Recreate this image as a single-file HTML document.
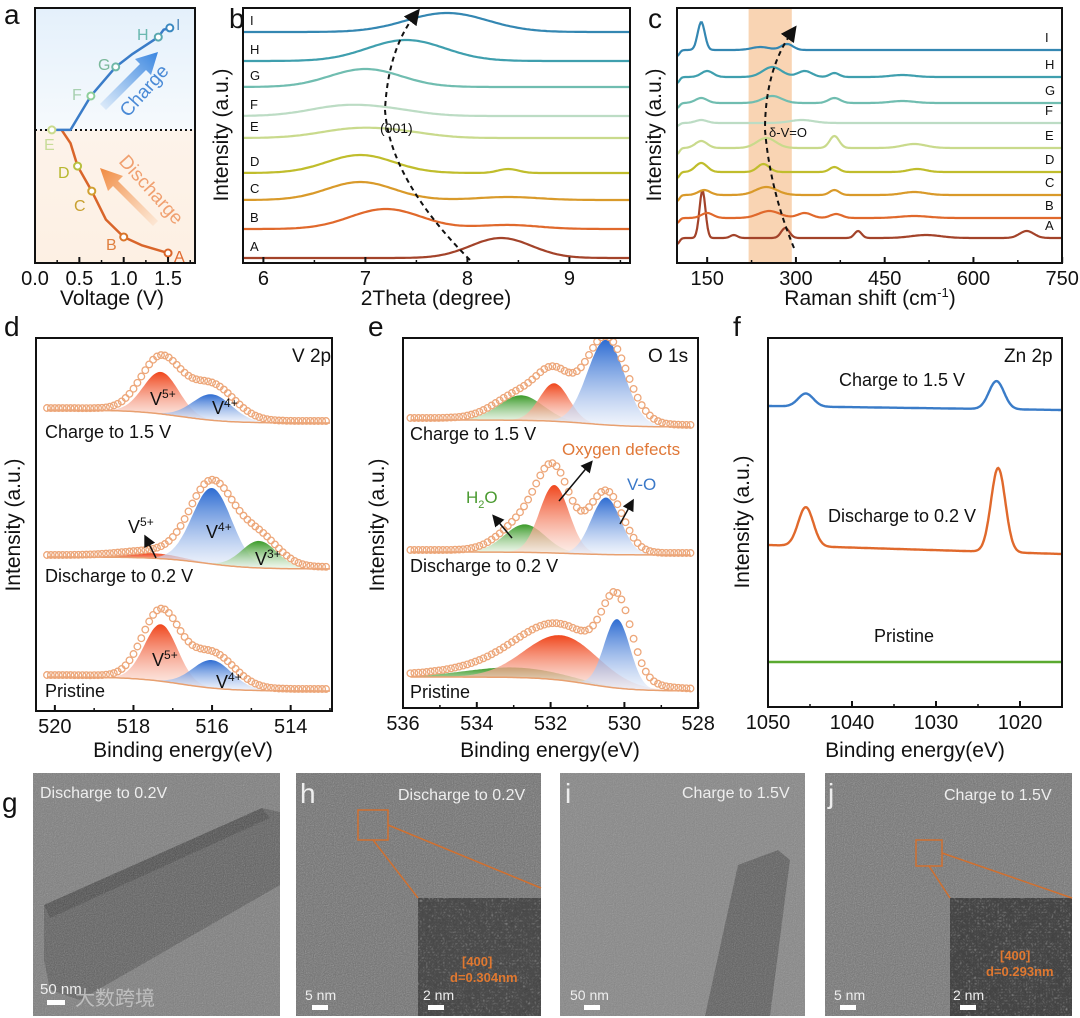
<!DOCTYPE html>
<html><head><meta charset="utf-8">
<style>
html,body{margin:0;padding:0;background:#fff;}
svg{display:block;font-family:"Liberation Sans","Noto Sans CJK SC",sans-serif;}
.tick{font-size:20px;fill:#111;text-anchor:middle;}
.ttl{font-size:21px;fill:#111;text-anchor:middle;}
.plet{font-size:28px;fill:#111;}
.lbl{font-size:18px;fill:#111;}
.img{font-size:16px;fill:#eee;}
</style></head>
<body>
<svg id="fig" width="1080" height="1018" viewBox="0 0 1080 1018" xmlns="http://www.w3.org/2000/svg">
<defs>
  <linearGradient id="gBlueBg" x1="0" y1="0" x2="0" y2="1"><stop offset="0" stop-color="#e4f0fb"/><stop offset="1" stop-color="#f6fafd"/></linearGradient>
  <linearGradient id="gOrBg" x1="0" y1="0" x2="0" y2="1"><stop offset="0" stop-color="#fdf3ea"/><stop offset="1" stop-color="#fdf0e3"/></linearGradient>
  <linearGradient id="gRed" x1="0" y1="0" x2="0" y2="1"><stop offset="0" stop-color="#f0461c"/><stop offset="1" stop-color="#fbe4dc" stop-opacity="0.6"/></linearGradient>
  <linearGradient id="gBlue" x1="0" y1="0" x2="0" y2="1"><stop offset="0" stop-color="#2d6cd2"/><stop offset="1" stop-color="#e8eefa" stop-opacity="0.6"/></linearGradient>
  <linearGradient id="gGreen" x1="0" y1="0" x2="0" y2="1"><stop offset="0" stop-color="#3a9a28"/><stop offset="1" stop-color="#eaf5e6" stop-opacity="0.6"/></linearGradient>
  <linearGradient id="arrBlue" x1="0" y1="1" x2="1" y2="0"><stop offset="0" stop-color="#4a90e2" stop-opacity="0.1"/><stop offset="1" stop-color="#3a86e0"/></linearGradient>
  <linearGradient id="arrOr" x1="1" y1="1" x2="0" y2="0"><stop offset="0" stop-color="#f5a060" stop-opacity="0.1"/><stop offset="1" stop-color="#f08a40"/></linearGradient>
  <filter id="noise" x="0" y="0" width="100%" height="100%">
    <feTurbulence type="fractalNoise" baseFrequency="0.9" numOctaves="2" seed="3"/>
    <feColorMatrix type="saturate" values="0"/>
    <feComponentTransfer><feFuncA type="linear" slope="0.7"/></feComponentTransfer>
  </filter>
  <filter id="noise2" x="0" y="0" width="100%" height="100%">
    <feTurbulence type="turbulence" baseFrequency="0.35" numOctaves="1" seed="7"/>
    <feColorMatrix type="saturate" values="0"/>
    <feComponentTransfer><feFuncA type="linear" slope="1"/></feComponentTransfer>
  </filter>
  <marker id="ah" markerWidth="8" markerHeight="8" refX="4" refY="4" orient="auto"><path d="M0,0 L8,4 L0,8 z" fill="#111"/></marker>
  <clipPath id="clipD"><rect x="36" y="338" width="296" height="373"/></clipPath>
  <clipPath id="clipE"><rect x="403" y="338" width="295" height="370"/></clipPath>
</defs>

<!-- Panel letters -->
<text class="plet" x="4" y="24">a</text>
<text class="plet" x="229" y="28">b</text>
<text class="plet" x="648" y="28">c</text>
<text class="plet" x="4" y="336">d</text>
<text class="plet" x="368" y="336">e</text>
<text class="plet" x="733" y="336">f</text>
<text class="plet" x="2" y="812">g</text>

<!-- Panel a -->
<g>
  <rect x="35" y="8" width="160" height="122" fill="url(#gBlueBg)"/>
  <rect x="35" y="130" width="160" height="133" fill="url(#gOrBg)"/>
  <line x1="35" y1="130" x2="195" y2="130" stroke="#111" stroke-width="2" stroke-dasharray="2,3"/>
  <g id="aMarks"></g>
  <polygon points="100,104 140,64 135,59 158,52 151,75 146,70 106,110" fill="url(#arrBlue)"/>
  <polygon points="153,226 113,186 108,191 100,168 123,176 118,181 158,221" fill="url(#arrOr)"/>
  <text x="128" y="118" transform="rotate(-48 128 118)" font-size="19" fill="#4a8ad6">Charge</text>
  <text x="118" y="162" transform="rotate(48 118 162)" font-size="19" fill="#f0a070">Discharge</text>
  <text x="176" y="30" font-size="16" fill="#5a90c0">I</text>
  <text x="137" y="40" font-size="16" fill="#6ab8b0">H</text>
  <text x="98" y="70" font-size="16" fill="#7ab89a">G</text>
  <text x="72" y="100" font-size="16" fill="#a8d0b0">F</text>
  <text x="44" y="150" font-size="16" fill="#c8dc98">E</text>
  <text x="58" y="178" font-size="16" fill="#b8b830">D</text>
  <text x="74" y="211" font-size="16" fill="#c8a030">C</text>
  <text x="106" y="250" font-size="16" fill="#e08040">B</text>
  <text x="174" y="262" font-size="16" fill="#e06a30">A</text>
  <rect x="35" y="8" width="160" height="255" fill="none" stroke="#111" stroke-width="2"/>
  <g id="aTicks"></g>
  <text class="ttl" x="112" y="305">Voltage (V)</text>
</g>

<!-- Panel b -->
<g>
  <g id="bMarks"></g>
  <path d="M470,260 Q390,180 385,110 Q388,50 415,15" fill="none" stroke="#111" stroke-width="2" stroke-dasharray="5,4" marker-end="url(#ah)"/>
  <text x="380" y="133" font-size="14" fill="#111">(001)</text>
  <rect x="243" y="8" width="387" height="255" fill="none" stroke="#111" stroke-width="2"/>
  <g id="bTicks"></g>
  <text class="ttl" x="436" y="305">2Theta (degree)</text>
  <text class="ttl" transform="translate(228 135) rotate(-90)">Intensity (a.u.)</text>
</g>

<!-- Panel c -->
<g>
  <rect id="cBand" x="0" y="8" width="0" height="255" fill="#f7c59a" opacity="0.75"/>
  <g id="cMarks"></g>
  <path d="M794,248 Q770,190 765,130 Q765,70 792,32" fill="none" stroke="#111" stroke-width="2" stroke-dasharray="5,4" marker-end="url(#ah)"/>
  <text x="769" y="137" font-size="13" fill="#111">δ-V=O</text>
  <rect x="677" y="8" width="385" height="255" fill="none" stroke="#111" stroke-width="2"/>
  <g id="cTicks"></g>
  <text class="ttl" x="870" y="305">Raman shift (cm<tspan dy="-8" font-size="13">-1</tspan><tspan dy="8">)</tspan></text>
  <text class="ttl" transform="translate(661 135) rotate(-90)">Intensity (a.u.)</text>
</g>

<!-- Panel d -->
<g>
  <g id="dMarks" clip-path="url(#clipD)"></g>
  <rect x="36" y="338" width="296" height="373" fill="none" stroke="#111" stroke-width="2"/>
  <text x="292" y="362" font-size="19" fill="#111">V 2p</text>
  <text class="lbl" x="45" y="438">Charge to 1.5 V</text>
  <text class="lbl" x="45" y="582">Discharge to 0.2 V</text>
  <text class="lbl" x="45" y="697">Pristine</text>
  <text class="lbl" x="150" y="405">V<tspan dy="-7" font-size="12">5+</tspan></text>
  <text class="lbl" x="212" y="414">V<tspan dy="-7" font-size="12">4+</tspan></text>
  <text class="lbl" x="128" y="533">V<tspan dy="-7" font-size="12">5+</tspan></text>
  <line x1="156" y1="558" x2="147" y2="540" stroke="#111" stroke-width="1.5" marker-end="url(#ah)"/>
  <text class="lbl" x="206" y="538">V<tspan dy="-7" font-size="12">4+</tspan></text>
  <text class="lbl" x="255" y="565">V<tspan dy="-7" font-size="12">3+</tspan></text>
  <text class="lbl" x="152" y="666">V<tspan dy="-7" font-size="12">5+</tspan></text>
  <text class="lbl" x="216" y="688">V<tspan dy="-7" font-size="12">4+</tspan></text>
  <g id="dTicks"></g>
  <text class="ttl" x="183" y="757">Binding energy(eV)</text>
  <text class="ttl" transform="translate(20 525) rotate(-90)">Intensity (a.u.)</text>
</g>

<!-- Panel e -->
<g>
  <g id="eMarks" clip-path="url(#clipE)"></g>
  <rect x="403" y="338" width="295" height="370" fill="none" stroke="#111" stroke-width="2"/>
  <text x="648" y="362" font-size="19" fill="#111">O 1s</text>
  <text class="lbl" x="410" y="440">Charge to 1.5 V</text>
  <text class="lbl" x="410" y="572">Discharge to 0.2 V</text>
  <text class="lbl" x="410" y="698">Pristine</text>
  <text x="562" y="455" font-size="17" fill="#e07838">Oxygen defects</text>
  <text x="627" y="490" font-size="17" fill="#3a78c8">V-O</text>
  <text x="466" y="503" font-size="17" fill="#4a9a30">H<tspan dy="5" font-size="11">2</tspan><tspan dy="-5">O</tspan></text>
  <line x1="512" y1="538" x2="496" y2="519" stroke="#111" stroke-width="1.5" marker-end="url(#ah)"/>
  <line x1="559" y1="501" x2="589" y2="465" stroke="#111" stroke-width="1.5" marker-end="url(#ah)"/>
  <line x1="620" y1="524" x2="631" y2="504" stroke="#111" stroke-width="1.5" marker-end="url(#ah)"/>
  <g id="eTicks"></g>
  <text class="ttl" x="550" y="757">Binding energy(eV)</text>
  <text class="ttl" transform="translate(384 525) rotate(-90)">Intensity (a.u.)</text>
</g>

<!-- Panel f -->
<g>
  <g id="fMarks"></g>
  <rect x="768" y="338" width="294" height="369" fill="none" stroke="#111" stroke-width="2"/>
  <text x="1004" y="362" font-size="19" fill="#111">Zn 2p</text>
  <text class="lbl" x="902" y="386" text-anchor="middle">Charge to 1.5 V</text>
  <text class="lbl" x="902" y="522" text-anchor="middle">Discharge to 0.2 V</text>
  <text class="lbl" x="904" y="642" text-anchor="middle">Pristine</text>
  <g id="fTicks"></g>
  <text class="ttl" x="915" y="757">Binding energy(eV)</text>
  <text class="ttl" transform="translate(749 522) rotate(-90)">Intensity (a.u.)</text>
</g>

<!-- TEM images -->
<g>
  <rect x="33" y="773" width="247" height="243" fill="#7c7c7c"/>
  <polygon points="44,905 262,808 280,812 280,885 80,1000 50,990 44,960" fill="#5e5e5e"/>
  <polygon points="44,905 262,808 270,818 50,918" fill="#4c4c4c" />
  <rect x="33" y="773" width="247" height="243" filter="url(#noise)" opacity="0.6"/>
  <text class="img" x="40" y="798">Discharge to 0.2V</text>
  <rect x="47" y="1000" width="18" height="5" fill="#fff"/>
  <text x="40" y="994" font-size="15" fill="#eee">50 nm</text>
  <text x="75" y="1005" font-size="20" fill="#ccc" opacity="0.8" font-family="'Noto Sans CJK SC',sans-serif">大数跨境</text>
</g>
<g>
  <rect x="296" y="773" width="245" height="243" fill="#6e6e6e"/>
  <rect x="296" y="773" width="245" height="243" filter="url(#noise)" opacity="0.7"/>
  <rect x="418" y="898" width="123" height="118" fill="#4a4a4a"/>
  <rect x="418" y="898" width="123" height="118" filter="url(#noise2)" opacity="0.8"/>
  <rect x="358" y="810" width="30" height="30" fill="none" stroke="#d07030" stroke-width="1.5"/>
  <line x1="373" y1="840" x2="418" y2="898" stroke="#d07030" stroke-width="1.5"/>
  <line x1="388" y1="825" x2="541" y2="888" stroke="#d07030" stroke-width="1.5"/>
  <text x="300" y="803" font-size="28" fill="#eee">h</text>
  <text class="img" x="398" y="800">Discharge to 0.2V</text>
  <text x="462" y="966" font-size="13" fill="#e07830" font-weight="bold">[400]</text>
  <text x="450" y="982" font-size="13" fill="#e07830" font-weight="bold">d=0.304nm</text>
  <text x="305" y="1000" font-size="14" fill="#eee">5 nm</text>
  <rect x="312" y="1005" width="16" height="5" fill="#fff"/>
  <text x="423" y="1000" font-size="14" fill="#eee">2 nm</text>
  <rect x="428" y="1005" width="16" height="5" fill="#fff"/>
</g>
<g>
  <rect x="560" y="773" width="245" height="243" fill="#858585"/>
  <polygon points="738,865 778,850 790,860 770,1016 705,1016" fill="#5e5e5e"/>
  <rect x="560" y="773" width="245" height="243" filter="url(#noise)" opacity="0.55"/>
  <text x="565" y="803" font-size="28" fill="#eee">i</text>
  <text class="img" x="682" y="798">Charge to 1.5V</text>
  <text x="570" y="1000" font-size="14" fill="#eee">50 nm</text>
  <rect x="584" y="1005" width="16" height="5" fill="#fff"/>
</g>
<g>
  <rect x="825" y="773" width="247" height="243" fill="#727272"/>
  <rect x="825" y="773" width="247" height="243" filter="url(#noise)" opacity="0.7"/>
  <rect x="950" y="898" width="122" height="118" fill="#444"/>
  <rect x="950" y="898" width="122" height="118" filter="url(#noise2)" opacity="0.85"/>
  <rect x="916" y="840" width="26" height="26" fill="none" stroke="#d07030" stroke-width="1.5"/>
  <line x1="929" y1="866" x2="950" y2="898" stroke="#d07030" stroke-width="1.5"/>
  <line x1="942" y1="853" x2="1072" y2="898" stroke="#d07030" stroke-width="1.5"/>
  <text x="828" y="803" font-size="28" fill="#eee">j</text>
  <text class="img" x="944" y="800">Charge to 1.5V</text>
  <text x="1000" y="960" font-size="13" fill="#e07830" font-weight="bold">[400]</text>
  <text x="986" y="976" font-size="13" fill="#e07830" font-weight="bold">d=0.293nm</text>
  <text x="834" y="1000" font-size="14" fill="#eee">5 nm</text>
  <rect x="840" y="1005" width="16" height="5" fill="#fff"/>
  <text x="953" y="1000" font-size="14" fill="#eee">2 nm</text>
  <rect x="960" y="1005" width="16" height="5" fill="#fff"/>
</g>
</svg>

<script>
// ===== Panel a data =====
const aDischargeV = [0.30, 0.40, 0.48, 0.64, 0.80, 1.00, 1.20, 1.50];
const aDischargeCap = [52.2, 47, 38, 28.2, 17, 10.2, 7, 3.9];
const aChargeV = [0.20, 0.40, 0.50, 0.63, 0.91, 1.10, 1.39, 1.45, 1.52];
const aChargeCap = [52.2, 52.2, 58, 65.5, 76.9, 82, 88.6, 91.5, 92.2];
const aPointV = [1.50, 1.00, 0.64, 0.48, 0.19, 0.63, 0.91, 1.39, 1.52];
const aPointCap = [3.9, 10.2, 28.2, 38, 52.2, 65.5, 76.9, 88.6, 92.2];
const aTicks = [0.0, 0.5, 1.0, 1.5];
const aTickLabels = ["0.0", "0.5", "1.0", "1.5"];

// ===== Panel b data (XRD) =====
const bSeries = ["A","B","C","D","E","F","G","H","I"];
const bBase = [0, 0, 0, 0, 0, 0, 0, 0, 0];
const bPeakPos = [[8.33],[7.2,8.4],[6.95,8.4],[6.95,8.4],[6.9,7.4],[6.8,7.3],[7.0],[7.4],[7.8]];
const bPeakHeight = [[20],[20,4],[18,3],[18,4],[9,4],[10,4],[18],[21],[19]];
const bPeakWidth = [[0.3],[0.35,0.3],[0.33,0.3],[0.33,0.1],[0.35,0.3],[0.35,0.3],[0.35],[0.38],[0.4]];
const bTicks = [6, 7, 8, 9];
const bTickLabels = ["6", "7", "8", "9"];

// ===== Panel c data (Raman) =====
const cSeries = ["A","B","C","D","E","F","G","H","I"];
const cPeakPos = [[99,142,195,282,405,520,690],[99,150,255,315,368,500],[99,145,250,365,500],[99,140,245,365,505],[99,140,250,365,500],[99,140,310],[99,140,260,365,480],[99,150,260,315,365,480],[99,140,240,285]];
const cPeakHeight = [[-6,48,3,10,7,3,7],[-5,5,7,5,4,2],[-6,5,8,5,3],[-6,9,8,5,3],[-6,7,10,12,4],[-3,3,3],[-5,5,7,5,2],[-6,6,10,6,4,2],[-6,28,3,6]];
const cPeakWidth = [[4,5,6,7,6,25,12],[4,10,18,12,10,25],[4,10,18,8,20],[4,10,10,8,15],[4,10,16,8,20],[4,10,20],[4,10,16,10,20],[4,10,16,12,8,20],[4,6,15,10]];
const cBandRange = [220, 293];
const cTicks = [150, 300, 450, 600, 750];
const cTickLabels = ["150", "300", "450", "600", "750"];

// ===== Panel d data (V 2p XPS) =====
const dStates = ["charge", "discharge", "pristine"];
const dBgRise = [13, 12, 14];
const dBgCenter = [516.8, 516.2, 516.8];
const dCompNames = [["V5+","V4+"],["V5+","V4+","V3+"],["V5+","V4+"]];
const dCompCenter = [[517.3, 516.0],[517.5, 516.0, 514.8],[517.3, 516.0]];
const dCompHeight = [[42, 26],[5, 76, 27],[57, 28]];
const dCompSigma = [[0.45, 0.5],[0.7, 0.5, 0.45],[0.42, 0.5]];
const dEnvScale = [1.3, 1.05, 1.2];
const dTicks = [520, 518, 516, 514];
const dTickLabels = ["520", "518", "516", "514"];

// ===== Panel e data (O 1s XPS) =====
const eStates = ["charge", "discharge", "pristine"];
const eBgRise = [7, 3, 14];
const eBgCenter = [531.0, 531.5, 531.0];
const eCompNames = [["H2O","defect","V-O"],["H2O","defect","V-O"],["H2O","defect","V-O"]];
const eCompCenter = [[532.8, 531.9, 530.5],[532.7, 531.9, 530.5],[533.0, 531.7, 530.2]];
const eCompHeight = [[25, 38, 85],[28, 68, 57],[10, 45, 69]];
const eCompSigma = [[0.6, 0.4, 0.5],[0.55, 0.4, 0.4],[1.3, 1.0, 0.35]];
const eEnvScale = [1.02, 1.08, 1.05];
const eTicks = [536, 534, 532, 530, 528];
const eTickLabels = ["536", "534", "532", "530", "528"];

// ===== Panel f data (Zn 2p XPS) =====
const fStates = ["charge", "discharge", "pristine"];
const fBgLeft = [4, 9, 0];
const fPeakPos = [[1045.5, 1022.8],[1045.5, 1022.6],[]];
const fPeakHeight = [[13, 28],[39, 84],[]];
const fPeakSigma = [[0.9, 0.9],[0.9, 0.85],[]];
const fTicks = [1050, 1040, 1030, 1020];
const fTickLabels = ["1050", "1040", "1030", "1020"];

// ===== layout (not data) =====
const NS = 'http://www.w3.org/2000/svg';
const bColors = ["#a3432a","#e0692c","#d99a2a","#c0bd2c","#c9da8c","#bcdcc4","#70bdb0","#3f9fae","#3487b2"];
const bOffsets = [258, 229, 200, 173, 138, 116, 87, 61, 32];
const cOffsets = [238, 218, 195, 172, 148, 123, 103, 77, 50];
const dOffsets = [423, 569, 691];
const eOffsets = [427, 555, 691];
const fOffsets = [410, 554, 662];
const compFill = {"V5+":"url(#gRed)","V4+":"url(#gBlue)","V3+":"url(#gGreen)","H2O":"url(#gGreen)","defect":"url(#gRed)","V-O":"url(#gBlue)"};

function mk(tag, attrs, parent) {
  const e = document.createElementNS(NS, tag);
  for (const k in attrs) e.setAttribute(k, attrs[k]);
  parent.appendChild(e);
  return e;
}
function gauss(x, c, h, s) { return h * Math.exp(-0.5 * ((x - c) / s) * ((x - c) / s)); }
function sumPeaks(x, pos, hts, wid) { let s = 0; for (let i = 0; i < pos.length; i++) s += gauss(x, pos[i], hts[i], wid[i]); return s; }

// axis functions
const aX = v => 35 + v * 88.7;
const aY = c => 263 - c * 2.55;
const bX = t => 243 + (t - 5.8) * 102;
const cX = r => 677 + (r - 99) * 0.5917;
const dX = e => 36 + (520.48 - e) * 39.3;
const eX = e => 403 + (536 - e) * 36.9;
const fX = e => 768 + (1050 - e) * 8.4;

function ticks(gid, vals, labels, xf, yBottom, minor) {
  const g = document.getElementById(gid);
  vals.forEach((v, i) => {
    const l = mk('line', {x1: xf(v), x2: xf(v), y1: yBottom, y2: yBottom - 6, stroke: '#111', 'stroke-width': 2}, g);
    
    
    const t = mk('text', {x: xf(v), y: yBottom + 22, class: 'tick'}, g);
    t.textContent = labels[i];
    
    
  });
  if (minor) minor.forEach(v => {
    const l = mk('line', {x1: xf(v), x2: xf(v), y1: yBottom, y2: yBottom - 3, stroke: '#111', 'stroke-width': 1.5}, g);
    
    
  });
}

// ===== Panel a draw =====
(function(){
  const g = document.getElementById('aMarks');
  let p = aDischargeV.map((v, i) => aX(v) + ',' + aY(aDischargeCap[i])).join(' ');
  const dl = mk('polyline', {points: p, fill: 'none', stroke: '#d9652a', 'stroke-width': 2.5, 'stroke-linejoin': 'round'}, g);
  
  
  p = aChargeV.map((v, i) => aX(v) + ',' + aY(aChargeCap[i])).join(' ');
  const cl = mk('polyline', {points: p, fill: 'none', stroke: '#3a7cc8', 'stroke-width': 2.5, 'stroke-linejoin': 'round'}, g);
  
  
  const ptCol = ["#d9652a","#d9752a","#d0a030","#b8c040","#c9da8c","#8ecf9a","#6fb8a8","#5aa8b0","#3a88c0"];
  aPointV.forEach((v, i) => {
    const c = mk('circle', {cx: aX(v), cy: aY(aPointCap[i]), r: 3.5, fill: '#fff', stroke: ptCol[i], 'stroke-width': 2}, g);
    
    
  });
  ticks('aTicks', aTicks, aTickLabels, aX, 263, [0.25, 0.75, 1.25, 1.75]);
})();

// ===== Panel b draw =====
(function(){
  const g = document.getElementById('bMarks');
  bSeries.forEach((s, i) => {
    let pts = [];
    for (let t = 5.8; t <= 9.6001; t += 0.02) {
      const y = bOffsets[i] - bBase[i] - sumPeaks(t, bPeakPos[i], bPeakHeight[i], bPeakWidth[i]);
      pts.push(bX(t).toFixed(1) + ',' + y.toFixed(1));
    }
    const l = mk('polyline', {points: pts.join(' '), fill: 'none', stroke: bColors[i], 'stroke-width': 2.2}, g);
    
    
    const t = mk('text', {x: 250, y: bOffsets[i] - 7, 'font-size': 13, fill: '#111'}, g);
    t.textContent = s;
    
    
  });
  ticks('bTicks', bTicks, bTickLabels, bX, 263, [6.5, 7.5, 8.5, 9.5]);
})();

// ===== Panel c draw =====
(function(){
  const band = document.getElementById('cBand');
  band.setAttribute('x', cX(cBandRange[0]));
  band.setAttribute('width', cX(cBandRange[1]) - cX(cBandRange[0]));
  const g = document.getElementById('cMarks');
  cSeries.forEach((s, i) => {
    let pts = [];
    for (let r = 99; r <= 750; r += 2) {
      const y = cOffsets[i] - sumPeaks(r, cPeakPos[i], cPeakHeight[i], cPeakWidth[i]);
      pts.push(cX(r).toFixed(1) + ',' + y.toFixed(1));
    }
    const l = mk('polyline', {points: pts.join(' '), fill: 'none', stroke: bColors[i], 'stroke-width': 2.2}, g);
    
    
    const t = mk('text', {x: 1045, y: cOffsets[i] - 8, 'font-size': 13, fill: '#111'}, g);
    t.textContent = s;
    
    
  });
  ticks('cTicks', cTicks, cTickLabels, cX, 263, [225, 375, 525, 675]);
})();

// ===== XPS draw helper =====
function drawXps(gid, xf, eHi, eLo, step, offsets, bgRise, bgCenter, names, centers, heights, sigmas, envScale, prefix) {
  const g = document.getElementById(gid);
  offsets.forEach((off, si) => {
    const bg = e => bgRise[si] / (1 + Math.exp((bgCenter[si] - e) / 0.6));
    names[si].forEach((nm, k) => {
      const c = centers[si][k], s = sigmas[si][k], h = heights[si][k];
      const hi = Math.min(c + 3 * s, eHi), lo = Math.max(c - 3 * s, eLo);
      let top = [], bot = [];
      for (let e = hi; e >= lo; e -= 0.04) {
        top.push(xf(e).toFixed(1) + ',' + (off - bg(e) - gauss(e, c, h, s)).toFixed(1));
        bot.unshift(xf(e).toFixed(1) + ',' + (off - bg(e)).toFixed(1));
      }
      const poly = mk('polygon', {points: top.concat(bot).join(' '), fill: compFill[nm]}, g);
      
      
    });
    let bpts = [];
    for (let e = eHi; e >= eLo; e -= 0.05) bpts.push(xf(e).toFixed(1) + ',' + (off - bg(e)).toFixed(1));
    const bl = mk('polyline', {points: bpts.join(' '), fill: 'none', stroke: '#e8a070', 'stroke-width': 1.5}, g);
    
    
    for (let e = eHi; e >= eLo; e -= step) {
      let s = 0;
      names[si].forEach((nm, k) => { s += gauss(e, centers[si][k], heights[si][k], sigmas[si][k] * 1.12); });
      const c = mk('circle', {cx: xf(e).toFixed(1), cy: (off - bg(e) - 2 - s * envScale[si]).toFixed(1), r: 3.3, fill: 'none', stroke: '#eda77a', 'stroke-width': 1.3}, g);
      
      
    }
  });
}
drawXps('dMarks', dX, 520.2, 513.0, 0.1, dOffsets, dBgRise, dBgCenter, dCompNames, dCompCenter, dCompHeight, dCompSigma, dEnvScale, 'v2p');
ticks('dTicks', dTicks, dTickLabels, dX, 711, [519, 517, 515, 513]);
drawXps('eMarks', eX, 535.8, 528.2, 0.11, eOffsets, eBgRise, eBgCenter, eCompNames, eCompCenter, eCompHeight, eCompSigma, eEnvScale, 'o1s');
ticks('eTicks', eTicks, eTickLabels, eX, 708, [535, 533, 531, 529]);

// ===== Panel f draw =====
(function(){
  const g = document.getElementById('fMarks');
  const cols = ["#3a7cc8", "#e0692c", "#5aaa30"];
  fStates.forEach((st, si) => {
    let pts = [];
    for (let e = 1050; e >= 1015; e -= 0.1) {
      const bg = fBgLeft[si] * (e - 1015) / 35;
      const y = fOffsets[si] - bg - sumPeaks(e, fPeakPos[si], fPeakHeight[si], fPeakSigma[si]);
      pts.push(fX(e).toFixed(1) + ',' + y.toFixed(1));
    }
    const l = mk('polyline', {points: pts.join(' '), fill: 'none', stroke: cols[si], 'stroke-width': 2.4}, g);
    
    
  });
  ticks('fTicks', fTicks, fTickLabels, fX, 707, [1045, 1035, 1025, 1015]);
})();
</script>
</body></html>
